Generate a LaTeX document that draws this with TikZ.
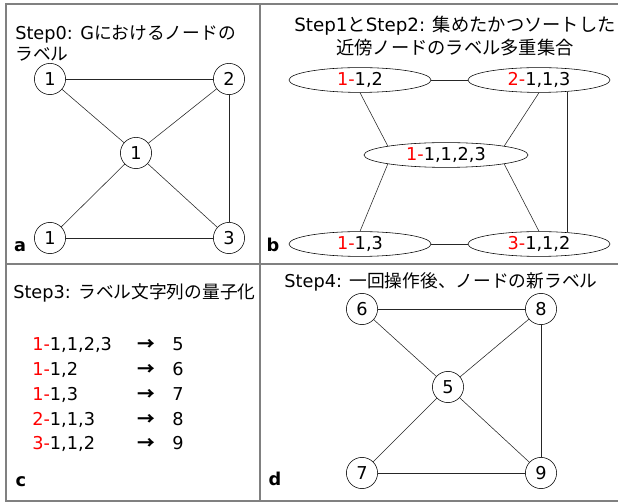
\documentclass[tikz,border=0pt]{standalone}
\usepackage{fontspec}
\setmainfont{DejaVu Sans}
\newfontfamily\jp{Noto Sans CJK JP}
\usepackage{xcolor}
\usetikzlibrary{shapes.geometric,positioning}
\definecolor{framegray}{RGB}{128,128,128}
\newcommand{\fsize}{\fontsize{12.6}{15.6}\selectfont}
\newcommand{\lblhead}[1]{\textcolor{red}{#1-}}
\tikzset{
  vtx/.style={draw, circle, thin, minimum size=0.78cm, inner sep=0pt, font=\fsize},
  msetbox/.style={draw, ellipse, thin, minimum width=3.55cm, minimum height=0.62cm,
                  inner sep=0pt, font=\fsize},
  link/.style={thin, black!85},
  panelframe/.style={draw=framegray, line width=1.2pt},
  steptitle/.style={font=\fsize, inner sep=0pt},
  paneltag/.style={font=\fsize\bfseries, inner sep=0pt}
}

\begin{document}
\begin{tikzpicture}[x=0.025cm, y=-0.025cm]
    \useasboundingbox (0,0) rectangle (618,503);

    % frame
    \draw[panelframe] (618,4) -- (6,4) -- (6,501) -- (618,501);
    \draw[panelframe] (260,4) -- (260,501);
    \draw[panelframe] (6,264) -- (618,264);

    % a: labels in G
    \node[steptitle, anchor=base west, align=left] (titleA) at (15,61)
      {Step0: G{\jp におけるノードの}\\{\jp ラベル}};
    \node[vtx] (a1) at (50,79)   {1};
    \node[vtx] (a2) at (229,79)  {2};
    \node[vtx] (a0) at (136,153) {1};
    \node[vtx] (a4) at (50,238)  {1};
    \node[vtx] (a3) at (229,238) {3};
    \draw[link] (a1) -- (a2);
    \draw[link] (a1) -- (a0);
    \draw[link] (a2) -- (a0);
    \draw[link] (a2) -- (a3);
    \draw[link] (a0) -- (a4);
    \draw[link] (a0) -- (a3);
    \draw[link] (a4) -- (a3);
    \node[paneltag, anchor=base] (tagA) at (20,252) {a};

    % b: sorted multisets
    \node[steptitle, anchor=base, align=center, font=\fontsize{13}{17}\selectfont] (titleB) at (455,55)
      {Step1{\jp と}Step2: {\jp 集めたかつソートした}\\{\jp 近傍ノードのラベル多重集合}};
    \node[msetbox] (b1) at (360,80)  {\lblhead{1}1,2};
    \node[msetbox] (b2) at (539,80)  {\lblhead{2}1,1,3};
    \node[msetbox, minimum width=4.1cm] (b0) at (446,155) {\lblhead{1}1,1,2,3};
    \node[msetbox] (b4) at (360,244) {\lblhead{1}1,3};
    \node[msetbox] (b3) at (539,244) {\lblhead{3}1,1,2};
    \draw[link] (b1) -- (b2);
    \draw[link] (b1.south) -- (b0.north west);
    \draw[link] (b2.south) -- (b0.north east);
    \draw[link] (b2.-22) -- (b3.22);
    \draw[link] (b0.south west) -- (b4.north);
    \draw[link] (b0.south east) -- (b3.north);
    \draw[link] (b4) -- (b3);
    \node[paneltag, anchor=base] (tagB) at (273,252) {b};

    % c: compression
    \node[steptitle, anchor=base west] (titleC) at (13,299) {Step3: {\jp ラベル文字列の量子化}};
    \foreach \h/\rest/\q [count=\i from 0] in
        {1/{1,1,2,3}/5, 1/{1,2}/6, 1/{1,3}/7, 2/{1,1,3}/8, 3/{1,1,2}/9}{
      \node[steptitle, anchor=base west] (row\i) at (32,351+24.7*\i) {\lblhead{\h}\rest};
      \node[steptitle, anchor=base] (arr\i) at (146,351+24.7*\i) {\jp\bfseries →};
      \node[steptitle, anchor=base] (new\i) at (178,351+24.7*\i) {\q};
    }
    \node[paneltag, anchor=base] (tagC) at (21,487) {c};

    % d: relabelled G
    \node[steptitle, anchor=base] (titleD) at (441,288) {Step4: {\jp 一回操作後、ノードの新ラベル}};
    \node[vtx] (d6) at (362,309) {6};
    \node[vtx] (d8) at (541,309) {8};
    \node[vtx] (d5) at (448,387) {5};
    \node[vtx] (d7) at (362,473) {7};
    \node[vtx] (d9) at (541,473) {9};
    \draw[link] (d6) -- (d8);
    \draw[link] (d6) -- (d5);
    \draw[link] (d8) -- (d5);
    \draw[link] (d8) -- (d9);
    \draw[link] (d5) -- (d7);
    \draw[link] (d5) -- (d9);
    \draw[link] (d7) -- (d9);
    \node[paneltag, anchor=base] (tagD) at (275,486) {d};
\end{tikzpicture}
\end{document}
